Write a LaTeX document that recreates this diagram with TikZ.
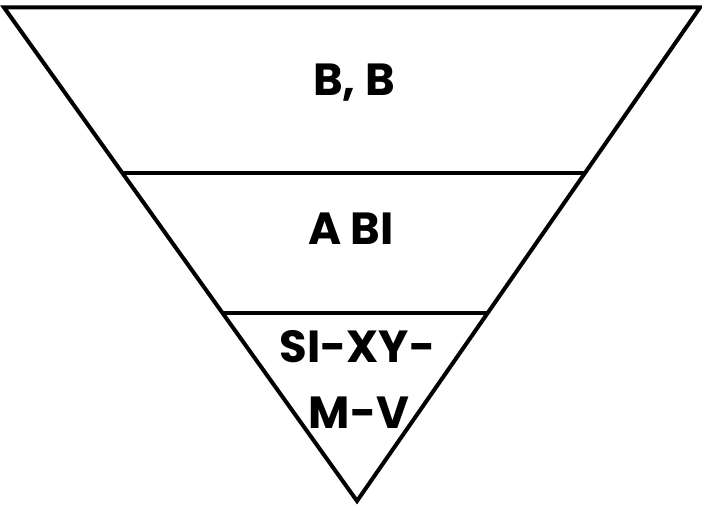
\documentclass[tikz,border=0pt]{standalone}
\usepackage{fontspec}
\setmainfont{Poppins}[BoldFont={* Bold}]
\usetikzlibrary{calc}
\begin{document}
\begin{tikzpicture}[x=1pt,y=-1pt,
  edge/.style={line width=4pt,line join=miter,line cap=butt},
  lbl/.style={font=\bfseries\fontsize{45}{50}\selectfont,inner sep=0pt,anchor=base}]
\useasboundingbox (0,0) rectangle (702,508);
\coordinate (tl) at (4,7.5);
\coordinate (tr) at (700,7.5);
\coordinate (ap) at (357,501);
\draw[edge] (tl) -- (tr) -- (ap) -- cycle;
\coordinate (l1) at ($(tl)!{(172.5-7.5)/(501-7.5)}!(ap)$);
\coordinate (r1) at ($(tr)!{(172.5-7.5)/(501-7.5)}!(ap)$);
\coordinate (l2) at ($(tl)!{(313-7.5)/(501-7.5)}!(ap)$);
\coordinate (r2) at ($(tr)!{(313-7.5)/(501-7.5)}!(ap)$);
\draw[edge] (l1) -- (r1);
\draw[edge] (l2) -- (r2);
\node[lbl] (b) at (354,95.5) {B, B};
\node[lbl] (a) at (351,244) {A BI};
\node[lbl] (s) at (357.5,362) {SI-XY-};
\node[lbl] (m) at (359,428) {M-V};
\end{tikzpicture}
\end{document}
